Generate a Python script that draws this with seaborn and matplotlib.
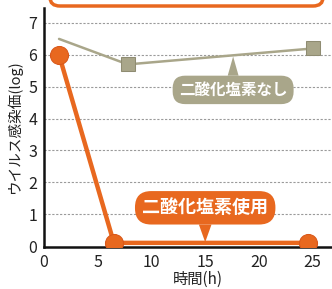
import matplotlib
matplotlib.use("Agg")
import matplotlib.pyplot as plt
from matplotlib.patches import FancyBboxPatch
import seaborn as sns
import pandas as pd

# data
time_without = [1.4, 7.8, 25.0]
value_without = [6.5, 5.7, 6.2]
time_with = [1.4, 6.5, 24.6]
value_with = [6.0, 0.1, 0.1]
label_without = "二酸化塩素なし"
label_with = "二酸化塩素使用"
xticks = [0, 5, 10, 15, 20, 25]
yticks = [0, 1, 2, 3, 4, 5, 6, 7]

ORANGE = "#e8681f"
GRAY = "#a9a68a"

sns.set_style("white")
plt.rcParams['font.family'] = ['Noto Sans CJK JP', 'DejaVu Sans']

fig = plt.figure(figsize=(3.32, 2.89), dpi=100)
ax = fig.add_axes([44/332, 42/289, 288/332, 239/289])

df_wo = pd.DataFrame({"t": time_without, "v": value_without})
df_w = pd.DataFrame({"t": time_with, "v": value_with})

sns.lineplot(data=df_wo, x="t", y="v", ax=ax, color=GRAY, lw=1.8,
             marker="s", markersize=10, markevery=[1, 2],
             markerfacecolor=GRAY, markeredgecolor="#8f8c72", zorder=3)
sns.lineplot(data=df_w, x="t", y="v", ax=ax, color=ORANGE, lw=3.2,
             marker="o", markersize=13, markerfacecolor=ORANGE,
             markeredgecolor="#d9581a", zorder=4)

ax.set_xlim(0, 26.8)
ax.set_ylim(-0.03, 7.47)
ax.set_xticks(xticks)
ax.set_yticks(yticks)
ax.tick_params(axis="both", length=0, labelsize=11.5, pad=5, colors="#222222")
for y in yticks[1:]:
    ax.axhline(y, color="#9a9a9a", lw=0.8, ls=(0, (2, 1.5)), zorder=1)
for s in ["top", "right"]:
    ax.spines[s].set_visible(False)
for s in ["left", "bottom"]:
    ax.spines[s].set_color("#111111")
    ax.spines[s].set_linewidth(1.8)

ax.set_xlabel("時間(h)", fontsize=11, color="#222222")
ax.xaxis.set_label_coords(0.535, -0.1)
ax.set_ylabel("ウイルス感染価(log)", fontsize=10.5, color="#222222")
ax.yaxis.set_label_coords(-0.075, 0.5)

ax.annotate(label_without, xy=(17.6, 5.95), xytext=(17.6, 4.9),
            ha="center", va="center", fontsize=11.2, fontweight="bold", color="white",
            bbox=dict(boxstyle="round,pad=0.4,rounding_size=0.8", fc=GRAY, ec="none"),
            arrowprops=dict(arrowstyle="wedge,tail_width=0.7,shrink_factor=0.5",
                            fc=GRAY, ec="none", shrinkA=0, shrinkB=0),
            zorder=5)
ax.annotate(label_with, xy=(15.0, 0.12), xytext=(15.0, 1.2),
            ha="center", va="center", fontsize=13, fontweight="bold", color="white",
            bbox=dict(boxstyle="round,pad=0.4,rounding_size=0.9", fc=ORANGE, ec="none"),
            arrowprops=dict(arrowstyle="wedge,tail_width=0.7,shrink_factor=0.5",
                            fc=ORANGE, ec="none", shrinkA=0, shrinkB=0),
            zorder=5)

# partially visible banner at the top edge
fig.patches.append(FancyBboxPatch((50/332, 283/289), 273/332, 30/289,
                                  boxstyle="round,pad=0,rounding_size=0.03",
                                  transform=fig.transFigure, fc="white",
                                  ec=ORANGE, lw=2.5, zorder=0))

fig.savefig("out.png", dpi=100)
